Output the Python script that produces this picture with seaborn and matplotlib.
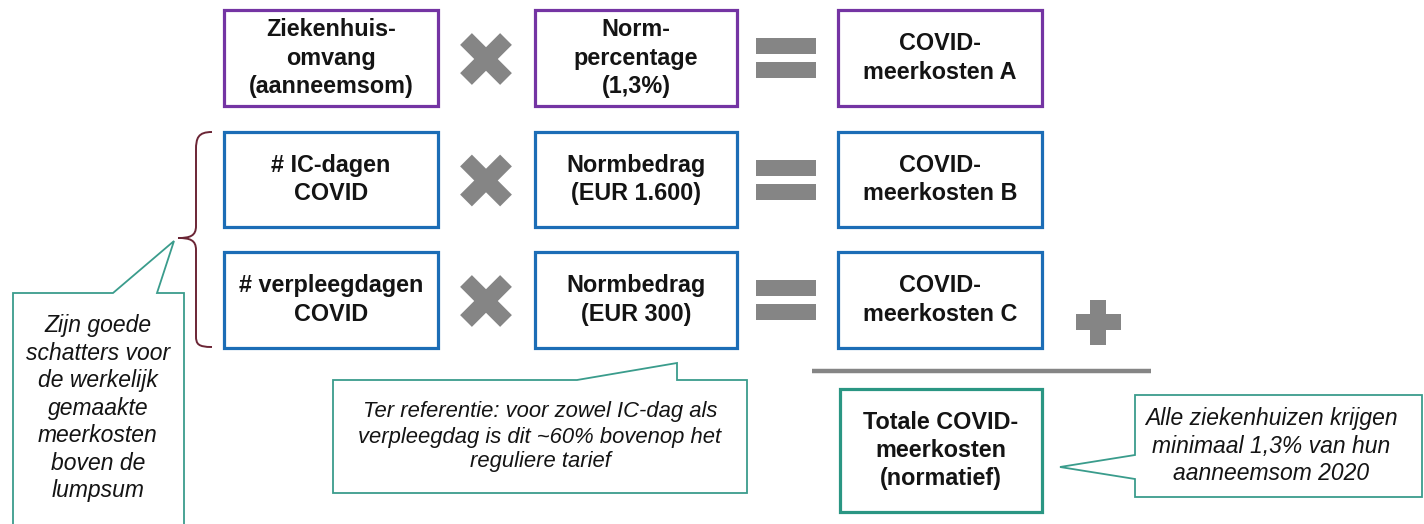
import matplotlib
matplotlib.use("Agg")
import matplotlib.pyplot as plt
import seaborn as sns
from matplotlib.patches import Rectangle, Polygon, PathPatch
from matplotlib.path import Path

# Text content of the diagram
input_terms = ["Ziekenhuis-\nomvang\n(aanneemsom)", "# IC-dagen\nCOVID", "# verpleegdagen\nCOVID"]
norm_terms = ["Norm-\npercentage\n(1,3%)", "Normbedrag\n(EUR 1.600)", "Normbedrag\n(EUR 300)"]
result_terms = ["COVID-\nmeerkosten A", "COVID-\nmeerkosten B", "COVID-\nmeerkosten C"]
total_term = "Totale COVID-\nmeerkosten\n(normatief)"
note_left = "Zijn goede\nschatters voor\nde werkelijk\ngemaakte\nmeerkosten\nboven de\nlumpsum"
note_middle = "Ter referentie: voor zowel IC-dag als\nverpleegdag is dit ~60% bovenop het\nreguliere tarief"
note_right = "Alle ziekenhuizen krijgen\nminimaal 1,3% van hun\naanneemsom 2020"

# Colours
purple = "#7434a3"
blue = "#1c6db6"
teal = "#2a9683"
note_teal = "#3a9c8c"
grey = "#858585"
brace_col = "#6b2535"
ink = "#141414"

sns.set_theme(style="white")
plt.rcParams["font.family"] = ["Liberation Sans", "DejaVu Sans"]

fig = plt.figure(figsize=(14.24, 5.24), dpi=100)
ax = fig.add_axes([0, 0, 1, 1])
ax.set_xlim(0, 1424)
ax.set_ylim(524, 0)
ax.axis("off")

# layout (pixel grid)
col_x = [224, 535, 838]
col_w = [214, 202, 204]
row_y = [10, 132, 252]
row_h = [96, 95, 96]
row_colors = [purple, blue, blue]


def box(x, y, w, h, color, label):
    ax.add_patch(Rectangle((x, y), w, h, fill=False, edgecolor=color, lw=2.3))
    ax.text(x + w / 2, y + h / 2, label, ha="center", va="center", fontsize=16.8,
            fontweight="bold", color=ink, linespacing=1.3)


def times_sign(cx, cy, r=20):
    for dx in (-r, r):
        ax.plot([cx - dx, cx + dx], [cy - r, cy + r], color=grey, lw=12,
                solid_capstyle="butt")


def equals_sign(x, cy):
    ax.add_patch(Rectangle((x, cy - 20), 60, 16, color=grey, lw=0))
    ax.add_patch(Rectangle((x, cy + 4), 60, 16, color=grey, lw=0))


for i in range(3):
    y, h, c = row_y[i], row_h[i], row_colors[i]
    cy = y + h / 2
    box(col_x[0], y, col_w[0], h, c, input_terms[i])
    box(col_x[1], y, col_w[1], h, c, norm_terms[i])
    box(col_x[2], y, col_w[2], h, c, result_terms[i])
    times_sign(486, cy + 1)
    equals_sign(756, cy)

# plus sign
ax.add_patch(Rectangle((1076, 314), 45, 16, color=grey, lw=0))
ax.add_patch(Rectangle((1090, 300), 16, 45, color=grey, lw=0))

# sum line
ax.plot([812, 1151], [371, 371], color=grey, lw=3.2, solid_capstyle="butt")

# total box
box(840, 389, 202, 123, teal, total_term)

# brace
verts = [(212, 132), (198, 132), (196, 138), (196, 150),
         (196, 226), (196, 236), (190, 238), (178, 238),
         (190, 238), (196, 240), (196, 250),
         (196, 336), (196, 344), (198, 347), (212, 347)]
codes = [Path.MOVETO, Path.CURVE4, Path.CURVE4, Path.CURVE4,
         Path.LINETO, Path.CURVE4, Path.CURVE4, Path.CURVE4,
         Path.CURVE4, Path.CURVE4, Path.CURVE4,
         Path.LINETO, Path.CURVE4, Path.CURVE4, Path.CURVE4]
ax.add_patch(PathPatch(Path(verts, codes), fill=False, edgecolor=brace_col, lw=1.4))

# callouts
left_call = [(13, 293), (113, 293), (174, 241), (157, 293), (184, 293), (184, 540), (13, 540)]
mid_call = [(333, 380), (577, 380), (677, 363), (677, 380), (747, 380), (747, 493), (333, 493)]
right_call = [(1135, 395), (1422, 395), (1422, 497), (1135, 497), (1135, 479), (1060, 467), (1135, 455)]
for pts in (left_call, mid_call, right_call):
    ax.add_patch(Polygon(pts, closed=True, facecolor="white", edgecolor=note_teal, lw=1.3))

note_kw = dict(ha="center", va="center", fontstyle="italic", color=ink, linespacing=1.25)
ax.text(98, 408, note_left, fontsize=16.5, **note_kw)
ax.text(540, 437, note_middle, fontsize=15.8, **note_kw)
ax.text(1271, 446, note_right, fontsize=16.5, **note_kw)

fig.savefig("out.png", dpi=100, facecolor="white")
